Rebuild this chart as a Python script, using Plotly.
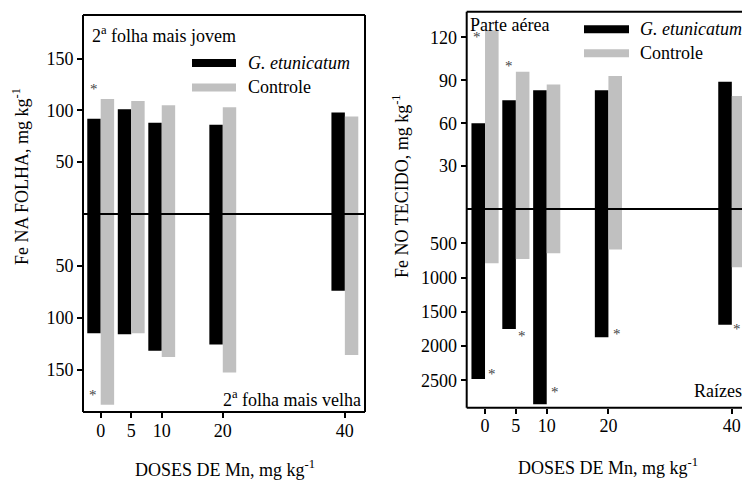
import plotly.graph_objects as go

# ---------------- data ----------------
doses = [0, 5, 10, 20, 40]
dose_labels = ["0", "5", "10", "20", "40"]

# left panel: Fe in leaf (mg/kg)
young_gly = [92, 101, 88, 86, 98]      # 2a folha mais jovem, G. etunicatum
young_ctl = [111, 109, 105, 103, 94]   # 2a folha mais jovem, Controle
old_gly = [115, 116, 132, 126, 74]     # 2a folha mais velha, G. etunicatum
old_ctl = [184, 115, 138, 153, 136]    # 2a folha mais velha, Controle

# right panel: Fe in tissue (mg/kg)
shoot_gly = [60, 76, 83, 83, 89]
shoot_ctl = [125, 96, 87, 93, 79]
root_gly = [2480, 1750, 2850, 1870, 1690]
root_ctl = [790, 730, 645, 590, 850]

left_ticks = [50, 100, 150]
shoot_ticks = [30, 60, 90, 120]
root_ticks = [500, 1000, 1500, 2000, 2500]

# significance marks (x, y, axis)
stars = [(-1.1, 121, "y"), (-1.25, 175, "y2"),
         (-1.25, 120, "y3"), (3.94, 100, "y3"),
         (1.1, 2410, "y4"), (5.94, 1857, "y4"), (11.35, 2668, "y4"),
         (21.45, 1828, "y4"), (40.8, 1745, "y4")]

# ---------------- helpers ----------------
W, H = 742, 480
def px(x):
    return x / W
def py(y):
    return 1 - y / H

FONT = "Liberation Serif, Times New Roman, serif"
BLACK = "#000000"
GRAY = "#c0c0c0"
BW = 2.2

fig = go.Figure()

def add_bars(vals, color, offset, xa, ya):
    fig.add_trace(go.Bar(x=doses, y=vals, width=BW, offset=offset,
                         marker=dict(color=color, line=dict(width=0)),
                         xaxis=xa, yaxis=ya, showlegend=False))

add_bars(young_gly, BLACK, -BW, "x", "y")
add_bars(young_ctl, GRAY, 0, "x", "y")
add_bars(old_gly, BLACK, -BW, "x", "y2")
add_bars(old_ctl, GRAY, 0, "x", "y2")
add_bars(shoot_gly, BLACK, -BW, "x2", "y3")
add_bars(shoot_ctl, GRAY, 0, "x2", "y3")
add_bars(root_gly, BLACK, -BW, "x2", "y4")
add_bars(root_ctl, GRAY, 0, "x2", "y4")

tickfont = dict(family=FONT, size=18, color=BLACK)
common_axis = dict(showgrid=False, zeroline=False, showline=False,
                   ticks="outside", ticklen=5, tickwidth=1.5, tickcolor=BLACK,
                   tickfont=tickfont, fixedrange=True)

fig.update_layout(
    width=W, height=H, margin=dict(l=0, r=0, t=0, b=0),
    font=dict(family=FONT, color=BLACK),
    paper_bgcolor="white", plot_bgcolor="white", barmode="overlay",
    xaxis=dict(domain=[px(83), px(365)], range=[-2.9, 43.3], anchor="y2",
               tickvals=doses, ticktext=dose_labels, ticklabelstandoff=-3, **common_axis),
    yaxis=dict(domain=[py(214), py(15)], range=[0, 192], anchor="x",
               tickvals=left_ticks, **common_axis),
    yaxis2=dict(domain=[py(412), py(214)], range=[191, 0], anchor="x",
                tickvals=left_ticks, **common_axis),
    xaxis2=dict(domain=[px(466.7), 1], range=[-2.97, 41.65], anchor="y4",
                tickvals=doses, ticktext=dose_labels, ticklabelstandoff=-3, **common_axis),
    yaxis3=dict(domain=[py(209), py(11.7)], range=[0, 138], anchor="x2",
                tickvals=shoot_ticks, **common_axis),
    yaxis4=dict(domain=[py(407.7), py(209)], range=[2900, 0], anchor="x2",
                tickvals=root_ticks, **common_axis),
)

shapes = []
def line(x0, y0, x1, y1, color=BLACK, width=2):
    shapes.append(dict(type="line", xref="paper", yref="paper",
                       x0=px(x0), y0=py(y0), x1=px(x1), y1=py(y1),
                       line=dict(color=color, width=width)))

# left frame
line(83, 15, 365, 15); line(83, 412, 365, 412)
line(83, 15, 83, 412); line(365, 15, 365, 412)
line(83, 214, 365, 214)
# right frame (cut on the right)
line(466.7, 11.7, 745, 11.7); line(466.7, 407.7, 745, 407.7)
line(466.7, 11.7, 466.7, 407.7)
line(466.7, 209, 745, 209)
# legend swatches
line(192, 63, 236, 63, BLACK, 8); line(192, 87.5, 236, 87.5, GRAY, 8)
line(584, 29.3, 629, 29.3, BLACK, 8); line(584, 53.3, 629, 53.3, GRAY, 8)
fig.update_layout(shapes=shapes)

ann = []
def text(t, x, y, xanchor="left", size=18, angle=0, italic=False):
    ann.append(dict(text=t, x=px(x), y=py(y), xref="paper", yref="paper",
                    xanchor=xanchor, yanchor="middle", showarrow=False, textangle=angle,
                    font=dict(family=FONT, size=size, color=BLACK,
                              style="italic" if italic else "normal")))

text("2<sup>a</sup> folha mais jovem", 90, 35)
text("G. etunicatum", 246, 63, italic=True)
text("Controle", 246, 87.5)
text("2<sup>a</sup> folha mais velha", 363, 398, xanchor="right")
text("Parte aérea", 468, 25)
text("G. etunicatum", 638, 29.3, italic=True)
text("Controle", 638, 53.3)
text("Raízes", 692, 391)
text("Fe NA FOLHA, mg kg<sup>-1</sup>", 20, 177, xanchor="center", angle=-90)
text("Fe NO TECIDO, mg kg<sup>-1</sup>", 401, 186, xanchor="center", angle=-90)
text("DOSES DE Mn, mg kg<sup>-1</sup>", 225, 468, xanchor="center")
text("DOSES DE Mn, mg kg<sup>-1</sup>", 608, 466, xanchor="center")

for sx, sy, ya in stars:
    xa = "x" if ya in ("y", "y2") else "x2"
    ann.append(dict(text="*", x=sx, y=sy, xref=xa, yref=ya, showarrow=False,
                    xanchor="center", yanchor="middle",
                    font=dict(family=FONT, size=15, color="#444444")))

fig.update_layout(annotations=ann)
fig.write_html("out.html")
